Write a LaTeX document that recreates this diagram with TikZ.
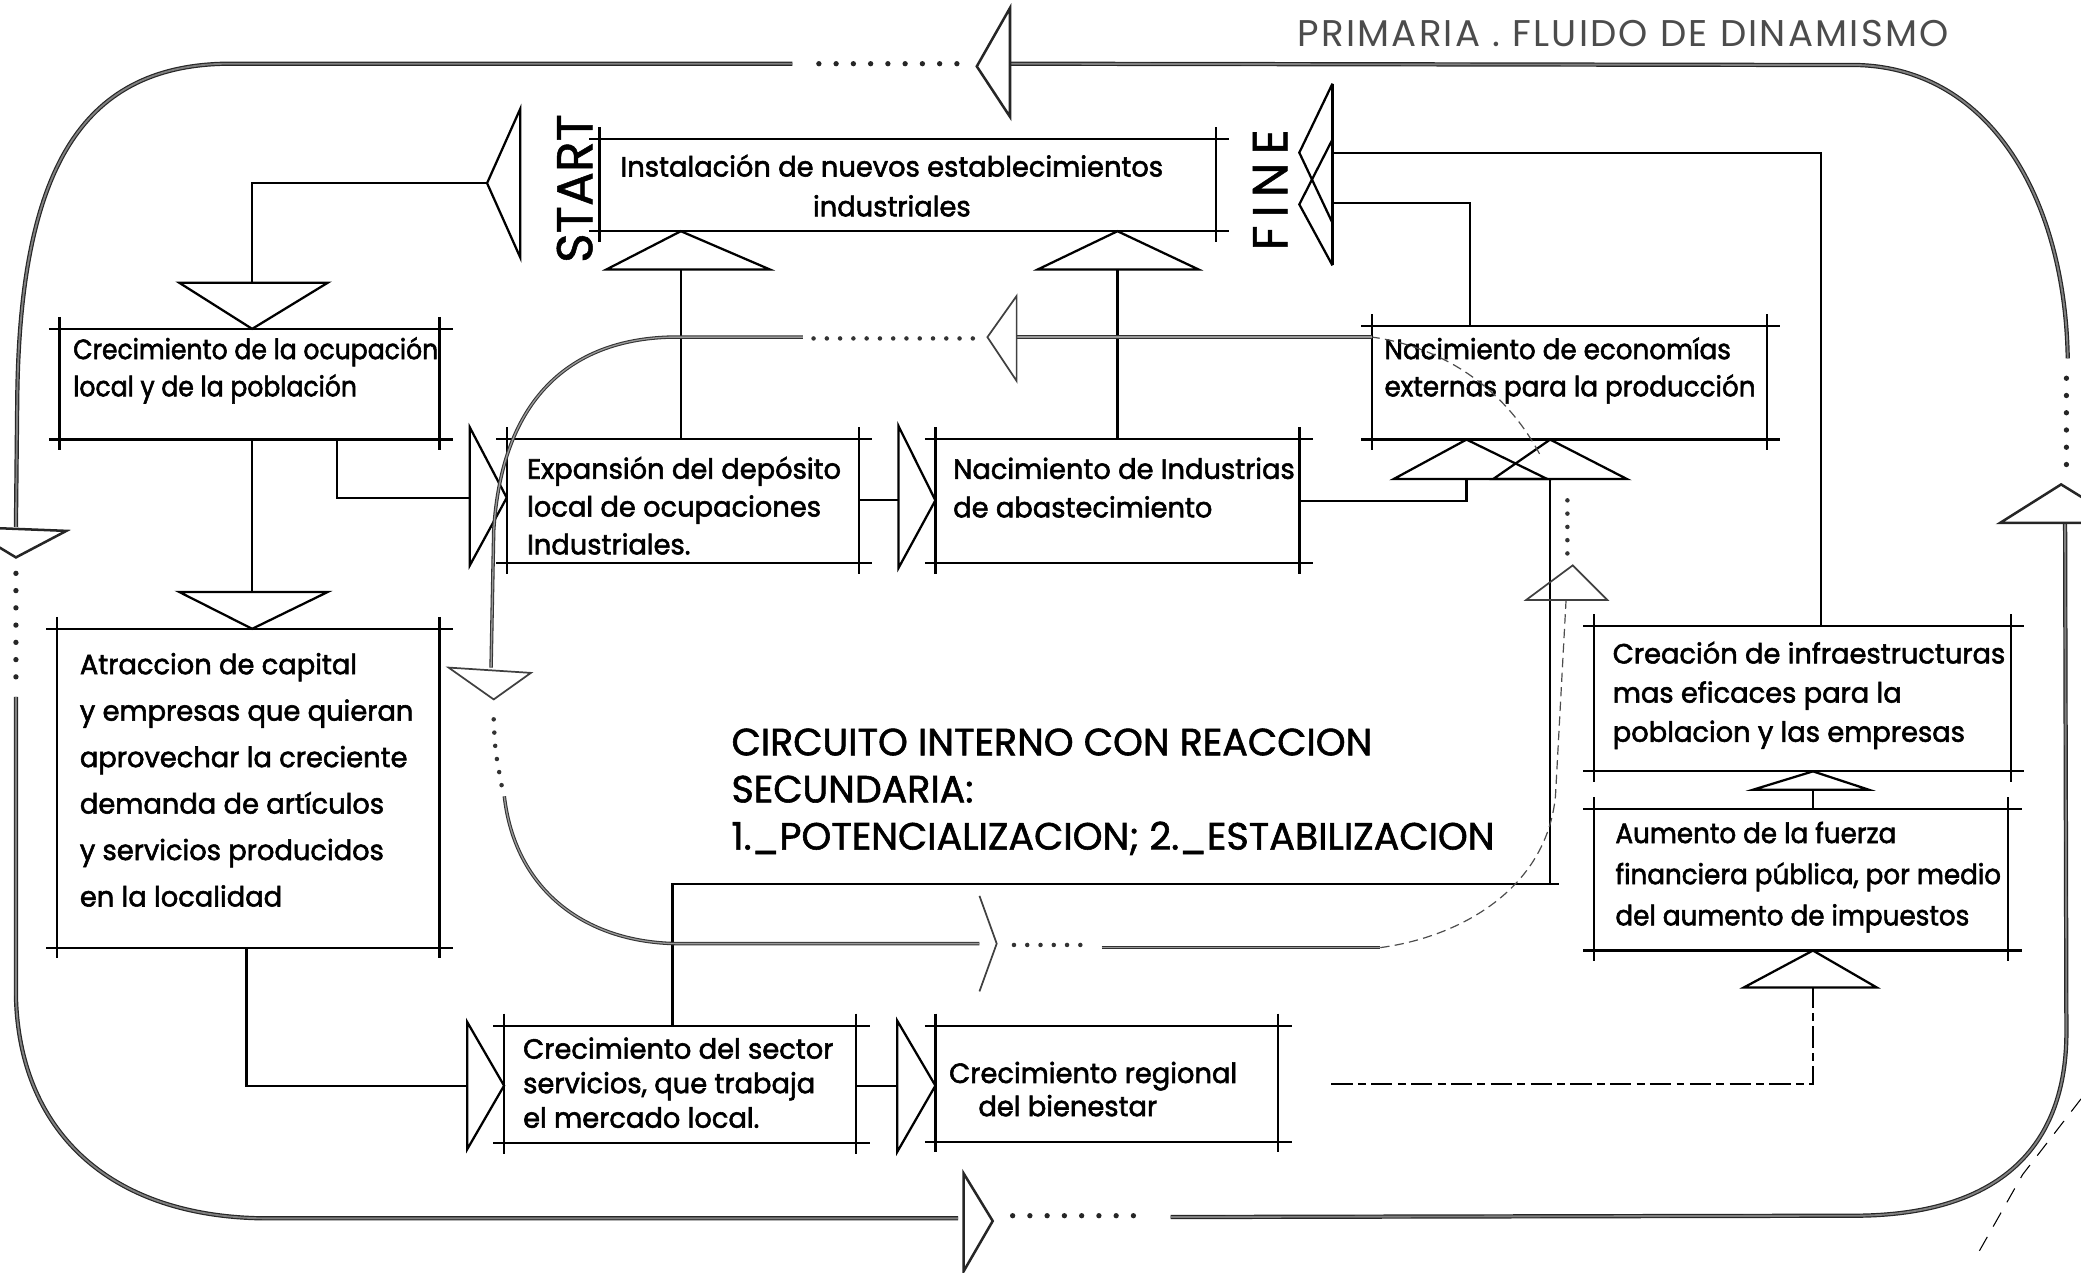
\documentclass[tikz,border=0pt]{standalone}
\usepackage{fontspec}
\setmainfont{Poppins}[FakeStretch=0.98, FakeBold=2]
\newfontfamily\narrowfont{Poppins}[FakeStretch=0.9, FakeBold=2]
\newfontfamily\midfont{Poppins}[FakeStretch=0.94, FakeBold=2]
\newfontfamily\capfont{Poppins}[FakeBold=1]
\newfontfamily\headfont{Poppins}[FakeBold=1.5]
\newfontfamily\titlefont{Poppins}[LetterSpace=6]
\usetikzlibrary{fit,calc}
\newcommand{\bfs}[1]{\fontsize{21}{#1}\selectfont}
\newcommand{\skbox}[5]{%
  \node[fit={(#2,#3) (#4,#5)}, inner sep=0pt, draw=none] (#1) {};
  \draw[boxline] ([xshift=-8pt]#1.north west) -- ([xshift=10pt]#1.north east);
  \draw[boxline] ([xshift=-8pt]#1.south west) -- ([xshift=10pt]#1.south east);
  \draw[boxline] ([yshift=9pt]#1.north west) -- ([yshift=-8pt]#1.south west);
  \draw[boxline] ([yshift=9pt]#1.north east) -- ([yshift=-8pt]#1.south east);
}
\newcommand{\trihead}[4][tri]{\draw[#1] #2 -- #3 -- #4 -- cycle;}
\begin{document}
\begin{tikzpicture}[x=1pt,y=-1pt,
  boxline/.style={line width=1.7pt, black},
  conn/.style={line width=1.7pt, black},
  tri/.style={line width=1.7pt, black, line join=miter},
  outer/.style={draw=black!85, double=black!50, double distance=1.4pt, line width=0.9pt},
  outertri/.style={line width=1.9pt, black!85, line join=miter},
  inner/.style={draw=black!80, double=black!40, double distance=1.0pt, line width=0.8pt},
  innerdash/.style={draw=black!70, line width=0.9pt, dash pattern=on 7pt off 4pt},
  innertri/.style={draw=black!75, line width=1.3pt, line join=miter},
  dots/.style={line width=4pt, line cap=round, dash pattern=on 0pt off 13pt, black!85},
  idots/.style={line width=3.4pt, line cap=round, dash pattern=on 0pt off 10pt, black!80},
  txt/.style={inner sep=0pt, align=left, anchor=west}]
\useasboundingbox (0,0) rectangle (1568,959);

% ---------------- boxes ----------------
\skbox{b1}{452}{105}{916}{174}
\skbox{b2}{45}{248}{331}{331}
\skbox{b3}{382}{331}{647}{424}
\skbox{b4}{705}{331}{979}{424}
\skbox{b5}{1034}{246}{1331}{331}
\skbox{b6}{43}{474}{331}{714}
\skbox{b8}{380}{773}{645}{861}
\skbox{b9}{705}{773}{963}{860}
\skbox{b10}{1201}{472}{1515}{581}
\skbox{b11}{1201}{610}{1513}{716}

% ---------------- texts ----------------
\node[inner sep=0pt, align=center, font={\bfs{30}}] (tx1) at (672,142)
  {\strut Instalación de nuevos establecimientos\\\strut industriales};
\node[txt, font={\narrowfont\bfs{28}}] (tx2) at (55,279)
  {\strut Crecimiento de la ocupación\\\strut local y de la población};
\node[txt, font={\bfs{28.5}}] (tx3) at (397,383.5)
  {\strut Expansión del depósito\\\strut local de ocupaciones\\\strut Industriales.};
\node[txt, font={\bfs{29}}] (tx4) at (718,369.5)
  {\strut Nacimiento de Industrias\\\strut de abastecimiento};
\node[txt, font={\midfont\bfs{28}}] (tx5) at (1043,279)
  {\strut Nacimiento de economías\\\strut externas para la producción};
\node[txt, font={\bfs{35}}] (tx6) at (60,588.5)
  {\strut Atraccion de capital\\\strut y empresas que quieran\\\strut aprovechar la creciente\\\strut demanda de artículos\\\strut y servicios producidos\\\strut en la localidad};
\node[txt, font={\bfs{26}}] (tx8) at (394,818.5)
  {\strut Crecimiento del sector\\\strut servicios, que trabaja\\\strut el mercado local.};
\node[txt, font={\bfs{25}}] (tx9) at (715,823.5)
  {\strut Crecimiento regional\\\strut\hspace*{22pt}del bienestar};
\node[txt, font={\bfs{29.5}}] (tx10) at (1215,523.5)
  {\strut Creación de infraestructuras\\\strut mas eficaces para la\\\strut poblacion y las empresas};
\node[txt, font={\midfont\bfs{31}}] (tx11) at (1217,660)
  {\strut Aumento de la fuerza\\\strut financiera pública, por medio\\\strut del aumento de impuestos};

\node[inner sep=0pt, font={\titlefont\fontsize{28}{30}\selectfont}, text=black!70] (title) at (1223,25)
  {PRIMARIA . FLUIDO DE DINAMISMO};
\node[txt, font={\headfont\fontsize{28.6}{35.5}\selectfont}] (circ) at (551,597.5)
  {\strut CIRCUITO INTERNO CON REACCION\\\strut SECUNDARIA:\\\strut 1.\_POTENCIALIZACION; 2.\_ESTABILIZACION};
\node[inner sep=0pt, rotate=90, font={\capfont\fontsize{38}{38}\selectfont}] (start) at (433,142) {START};
\node[inner sep=0pt, rotate=90, font={\capfont\fontsize{37}{37}\selectfont}] (fine) at (957,143) {F\,I\,N\,E};

% ---------------- arrow heads & connectors ----------------
% B1 -> B2 (from START side)
\coordinate (a1) at (367,138);
\trihead{(a1)}{(392,82)}{(392,194)}
\coordinate (t2) at (190,213);
\trihead{(135,213)}{(247,213)}{(b2.north -| t2)}
\draw[conn] (a1) -| (t2);
% B2 -> B6
\coordinate (t6) at (190,446);
\trihead{(135,446)}{(247,446)}{(b6.north -| t6)}
\draw[conn] (b2.south -| t6) -- (t6);
% B2 -> B3
\coordinate (t3) at (354,375);
\trihead{(354,322)}{(354,426)}{(b3.west |- t3)}
\draw[conn] ([xshift=209pt]b2.south west) |- (t3);
% B3 -> B4
\coordinate (t4) at (677,377);
\trihead{(677,321)}{(677,428)}{(b4.west |- t4)}
\draw[conn] (b3.east |- t4) -- (t4);
% B3 -> B1
\coordinate (t5) at (513,203);
\trihead{(457,203)}{(580,203)}{(b1.south -| t5)}
\draw[conn] (b3.north -| t5) -- (t5);
% B4 -> B1
\coordinate (t7) at (842,203);
\trihead{(782,203)}{(903,203)}{(b1.south -| t7)}
\draw[conn] (b4.north -| t7) -- (t7);
% B4 -> B5
\coordinate (t7a) at (1105,361);
\trihead{(1050,361)}{(1166,361)}{(b5.south -| t7a)}
\draw[conn] (b4.east) -| (t7a);
% B8 -> B5
\coordinate (t7b) at (1168,361);
\coordinate (k8) at (1168,666);
\trihead{(1125,361)}{(1226,361)}{(b5.south -| t7b)}
\draw[conn] ([xshift=127pt]b8.north west) |- (k8) -- (t7b);
\draw[conn] (k8) -- ++(7,0);
% B5 -> FINE, B10 -> FINE
\coordinate (fin1) at (1004,115);
\coordinate (fin2) at (1004,153);
\draw[tri] (1004,63) -- (979,115) -- (1004,168);
\draw[tri] (1004,105) -- (979,154) -- (1004,200);
\draw[tri] (1004,63) -- (1004,200);
\draw[conn] ([xshift=74pt]b5.north west) |- (fin2);
\draw[conn] ([xshift=171pt]b10.north west) |- (fin1);
% B11 -> B10
\coordinate (t11) at (1366,595);
\trihead{(1321,595)}{(1408,595)}{(b10.south -| t11)}
\draw[conn] (b11.north -| t11) -- (t11);
% B9 -> B11
\coordinate (t12) at (1366,744);
\trihead{(1314,744)}{(1414,744)}{(b11.south -| t12)}
\draw[line width=1.3pt, dash pattern=on 16pt off 4pt on 6pt off 4pt] ([xshift=40pt]b9.east) -| (t12);
% B6 -> B8
\coordinate (t13) at (352,818);
\trihead{(352,770)}{(352,866)}{(b8.west |- t13)}
\draw[conn] ([xshift=143pt]b6.south west) |- (t13);
% B8 -> B9
\coordinate (t14) at (676,818);
\trihead{(676,769)}{(676,868)}{(b9.west |- t14)}
\draw[conn] (b8.east |- t14) -- (t14);

% ---------------- outer loop ----------------
\draw[outer] (597,48) -- (170,48) .. controls (60,50) and (15,130) .. (13,300) -- (12,397);
\draw[outer] (12,525) -- (12,750) .. controls (14,850) and (80,917) .. (200,918) -- (722,918);
\draw[outer] (882,917) -- (1400,916) .. controls (1500,915) and (1556,870) .. (1557,780) -- (1556,394);
\draw[outer] (1558,270) .. controls (1556,150) and (1500,52) .. (1400,49) -- (761,48);
\trihead[outertri]{(736,50)}{(761,6)}{(761,88)}
\trihead[outertri]{(12,420)}{(-26,397)}{(50,400)}
\trihead[outertri]{(748,920)}{(726,884)}{(726,958)}
\trihead[outertri]{(1553,365)}{(1507,394)}{(1600,394)}
\draw[dots] (721,48) -- (608,48);
\draw[dots] (12,432) -- (12,515);
\draw[dots] (763,916) -- (862,916);
\draw[dots] (1557,350) -- (1557,280);
\draw[line width=0.8pt, dash pattern=on 12pt off 9pt] (1568,828) -- (1524,885) -- (1490,945);

% ---------------- inner loop ----------------
\draw[inner] (1034,254) -- (766,254);
\trihead[innertri]{(744,254)}{(766,223)}{(766,287)}
\draw[idots] (733,255) -- (612,255);
\draw[inner] (605,254) -- (505,254) .. controls (430,256) and (378,300) .. (372,400) -- (370,503);
\trihead[innertri]{(338,503)}{(400,507)}{(372,527)}
\draw[idots] (372,542) .. controls (373,565) .. (378,592);
\draw[inner] (380,600) .. controls (388,670) and (440,710) .. (510,711) -- (738,711);
\draw[innertri] (738,675) -- (751,711) -- (738,747);
\draw[idots] (764,712) -- (815,712);
\draw[inner] (830,714) -- (1040,714);
\draw[innerdash] (1040,714) .. controls (1100,706) and (1165,670) .. (1172,600) -- (1180,452);
\trihead[innertri]{(1185,426)}{(1150,452)}{(1211,452)}
\draw[idots] (1181,417) -- (1181,368);
\draw[innerdash] (1160,342) .. controls (1135,295) and (1090,262) .. (1034,254);

\end{tikzpicture}
\end{document}
